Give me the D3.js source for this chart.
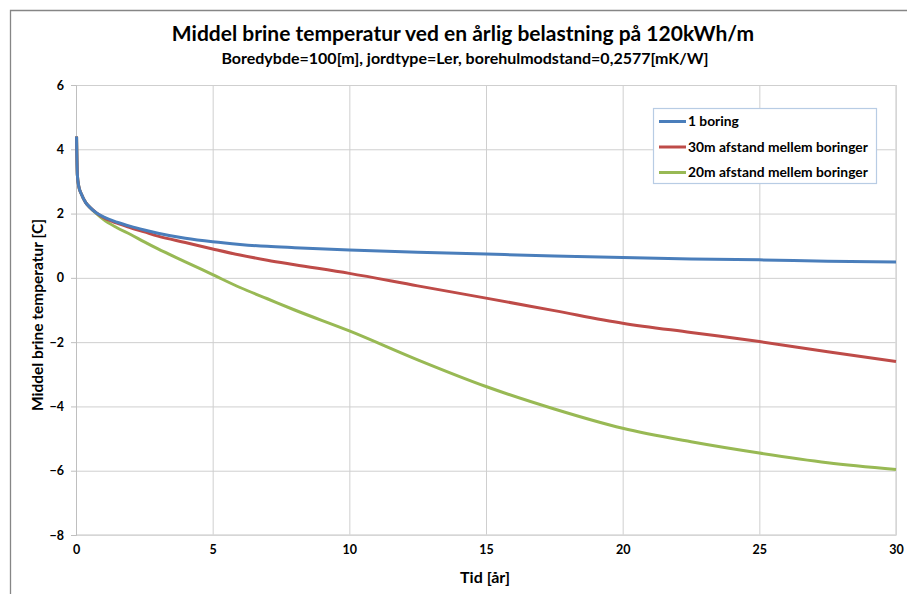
<!DOCTYPE html>
<html>
<head>
<meta charset="utf-8">
<script src="https://cdn.jsdelivr.net/npm/d3@7"></script>
<style>
  body { margin: 0; background: #fff; }
  text { font-family: Lato, "Open Sans", sans-serif; font-weight: bold; fill: #000; }
</style>
</head>
<body>
<svg id="chartId" width="907" height="594"></svg>
<script>
// years
const tid = [0.02, 0.05, 0.1, 0.2, 0.35, 0.5, 0.75, 1, 1.5, 2, 2.5, 3, 4, 5, 6, 7, 8, 10, 12.5, 15, 17.5, 20, 22.5, 25, 27.5, 30];
const boring1 = [4.4, 3.2, 2.85, 2.6, 2.35, 2.2, 2.02, 1.9, 1.73, 1.6, 1.49, 1.39, 1.23, 1.12, 1.04, 0.98, 0.94, 0.87, 0.8, 0.74, 0.68, 0.63, 0.59, 0.56, 0.52, 0.49];
const afstand30 = [4.4, 3.2, 2.85, 2.6, 2.35, 2.2, 2.02, 1.88, 1.7, 1.56, 1.43, 1.3, 1.1, 0.9, 0.71, 0.55, 0.41, 0.14, -0.25, -0.63, -1.02, -1.41, -1.7, -1.98, -2.3, -2.6];
const afstand20 = [4.4, 3.2, 2.85, 2.6, 2.35, 2.2, 2.0, 1.82, 1.56, 1.35, 1.12, 0.9, 0.5, 0.1, -0.3, -0.65, -1.0, -1.65, -2.55, -3.38, -4.08, -4.68, -5.1, -5.45, -5.75, -5.96];
const seriesNames = ["1 boring", "30m afstand mellem boringer", "20m afstand mellem boringer"];
const seriesColors = ["#4a7ebb", "#be4b48", "#98b954"];
const xTicks = [0, 5, 10, 15, 20, 25, 30];
const yTicks = [-8, -6, -4, -2, 0, 2, 4, 6];

const series = [boring1, afstand30, afstand20].map((vals, i) => ({
  name: seriesNames[i],
  color: seriesColors[i],
  values: vals.map((v, j) => ({ t: tid[j], v: v }))
}));

const svg = d3.select("#chartId");
const margin = { top: 85, left: 76 };
const innerWidth = 896 - margin.left;
const innerHeight = 535 - margin.top;

// outer chart border
svg.append("path")
  .attr("d", "M10.5,594V10.5H907")
  .attr("fill", "none").attr("stroke", "#868686").attr("stroke-width", 1.3);

const xScale = d3.scaleLinear().domain([0, 30]).range([0, innerWidth]);
const yScale = d3.scaleLinear().domain([-8, 6]).range([innerHeight, 0]);

const g = svg.append("g").attr("transform", `translate(${margin.left}, ${margin.top})`);

// grid
g.append("g")
  .call(d3.axisLeft(yScale).tickValues(yTicks).tickSize(-innerWidth).tickFormat(""))
  .call(s => s.select(".domain").remove())
  .call(s => s.selectAll("text").remove())
  .selectAll("line").attr("stroke", "#cfcfcf");
g.append("g")
  .call(d3.axisBottom(xScale).tickValues(xTicks).tickSize(innerHeight).tickFormat(""))
  .call(s => s.select(".domain").remove())
  .call(s => s.selectAll("text").remove())
  .selectAll("line").attr("stroke", "#cfcfcf");

// plot area right/bottom border
g.append("path")
  .attr("d", `M0,${innerHeight}H${innerWidth}V0`)
  .attr("fill", "none").attr("stroke", "#d9d9d9").attr("stroke-width", 1.5);

// y axis
const yAxisG = g.append("g")
  .call(d3.axisLeft(yScale).tickValues(yTicks).tickSize(5).tickPadding(7).tickFormat(d3.format("d")));
yAxisG.select(".domain").attr("stroke", "#bfbfbf");
yAxisG.selectAll(".tick line").attr("stroke", "#bfbfbf");
yAxisG.selectAll(".tick text").attr("font-size", 12.5).attr("fill", "#000");

// x axis labels
const xAxisG = g.append("g")
  .attr("transform", `translate(0, ${innerHeight})`)
  .call(d3.axisBottom(xScale).tickValues(xTicks).tickSize(0).tickPadding(10).tickFormat(d3.format("d")));
xAxisG.select(".domain").remove();
xAxisG.selectAll(".tick text").attr("font-size", 12.5).attr("fill", "#000");

// lines
const line = d3.line()
  .x(d => xScale(d.t))
  .y(d => yScale(d.v))
  .curve(d3.curveMonotoneX);

g.selectAll(".series")
  .data(series.slice().reverse())
  .enter()
  .append("path")
  .attr("class", "series")
  .attr("d", d => line(d.values))
  .attr("fill", "none")
  .attr("stroke", d => d.color)
  .attr("stroke-width", 3)
  .attr("stroke-linejoin", "round");

// titles
svg.append("text")
  .attr("x", 463).attr("y", 41)
  .attr("text-anchor", "middle")
  .attr("font-size", 21)
  .text("Middel brine temperatur ved en årlig belastning på 120kWh/m");
svg.append("text")
  .attr("x", 465).attr("y", 64)
  .attr("text-anchor", "middle")
  .attr("font-size", 16)
  .text("Boredybde=100[m], jordtype=Ler, borehulmodstand=0,2577[mK/W]");
svg.append("text")
  .attr("x", 485).attr("y", 583)
  .attr("text-anchor", "middle")
  .attr("font-size", 16)
  .text("Tid [år]");
svg.append("text")
  .attr("transform", `translate(43, ${margin.top + innerHeight / 2 + 5}) rotate(-90)`)
  .attr("text-anchor", "middle")
  .attr("font-size", 15.5)
  .text("Middel brine temperatur [C]");

// legend
const legend = svg.append("g").attr("transform", "translate(653, 108)");
legend.append("rect")
  .attr("x", 0.5).attr("y", 0.5)
  .attr("width", 223).attr("height", 75)
  .attr("fill", "#fff").attr("stroke", "#b8cce4").attr("stroke-width", 1.2);
const item = legend.selectAll(".item")
  .data(series)
  .enter()
  .append("g")
  .attr("transform", (d, i) => `translate(0, ${13.5 + i * 25.5})`);
item.append("line")
  .attr("x1", 6).attr("x2", 33)
  .attr("stroke", d => d.color).attr("stroke-width", 3);
item.append("text")
  .attr("x", 35).attr("dy", "0.35em")
  .attr("font-size", 13.8)
  .text(d => d.name);
</script>
</body>
</html>
